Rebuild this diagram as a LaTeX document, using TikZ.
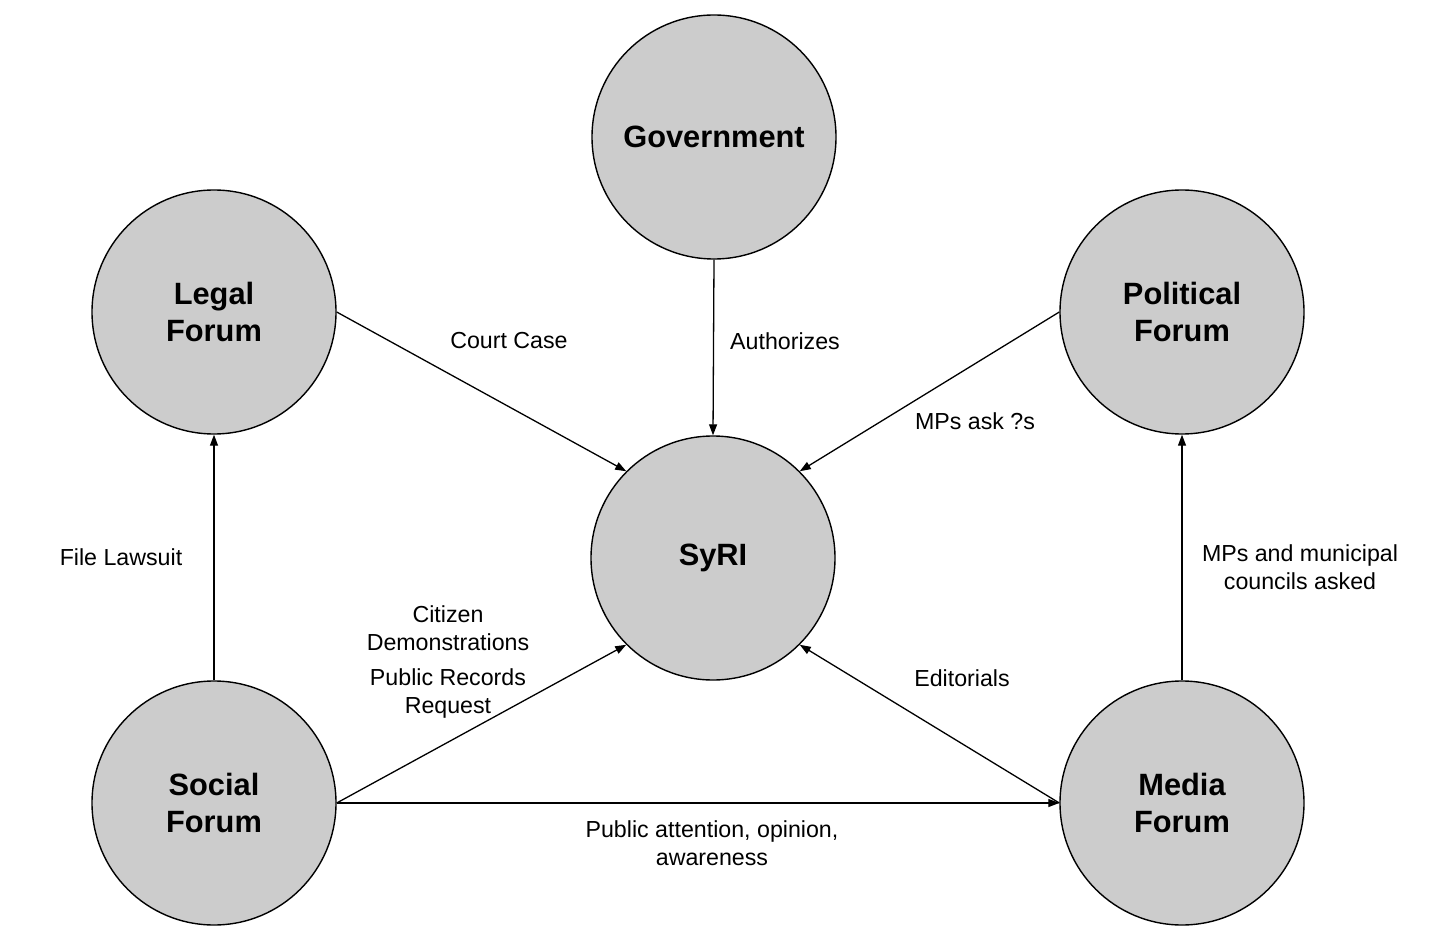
\documentclass[tikz,border=0pt]{standalone}
\usepackage{fontspec}
\setmainfont{Liberation Sans}
\usetikzlibrary{arrows.meta}
\definecolor{nodegray}{HTML}{CCCCCC}
\tikzset{
  forum/.style={circle, draw=black, line width=1.4pt, fill=nodegray, minimum size=244pt, inner sep=0pt, align=center, font=\fontsize{30.8}{37}\selectfont\bfseries},
  conn/.style={line width=1.3pt, -{Triangle[length=11pt,width=8pt]}},
  lbl/.style={align=center, font=\fontsize{23.2}{28}\selectfont, inner sep=0pt}
}
\begin{document}
\begin{tikzpicture}[x=1pt,y=-1pt]
\useasboundingbox (0,0) rectangle (1456,949);
\node[forum] (gov) at (714,137) {Government};
\node[forum] (legal) at (214,312) {Legal\\Forum};
\node[forum] (pol) at (1182,312) {Political\\Forum};
\node[forum] (syri) at (713,558) {SyRI};
\node[forum] (social) at (214,803) {Social\\Forum};
\node[forum] (media) at (1182,803) {Media\\Forum};

\draw[conn] (gov.south) -- (syri.north);
\draw[conn] (legal.east) -- (syri.135);
\draw[conn] (pol.west) -- (syri.45);
\draw[conn] (social.north) -- (legal.south);
\draw[conn] (social.east) -- (syri.-135);
\draw[conn] (social.east) -- (media.west);
\draw[conn] (media.west) -- (syri.-45);
\draw[conn] (media.north) -- (pol.south);

\node[lbl] (l1) at (509,341) {Court Case};
\node[lbl] (l2) at (785,341) {Authorizes};
\node[lbl] (l3) at (975,421) {MPs ask ?s};
\node[lbl] (l4) at (121,557) {File Lawsuit};
\node[lbl] (l5) at (1300,567) {MPs and municipal\\councils asked};
\node[lbl] (l6) at (448,628) {Citizen\\Demonstrations};
\node[lbl] (l7) at (448,693) {Public Records\\Request};
\node[lbl] (l8) at (962,678) {Editorials};
\node[lbl] (l9) at (712,843) {Public attention, opinion,\\awareness};
\end{tikzpicture}
\end{document}
